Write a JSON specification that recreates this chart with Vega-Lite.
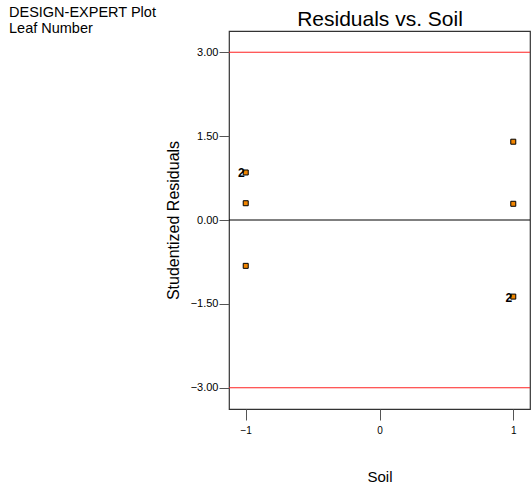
{
  "$schema": "https://vega.github.io/schema/vega-lite/v6.json",
  "autosize": "none",
  "width": 301,
  "height": 378,
  "padding": {"left": 229, "top": 31, "right": 1, "bottom": 84},
  "background": "white",
  "config": {
    "font": "Liberation Sans",
    "view": {"stroke": "#333", "strokeWidth": 1.2},
    "axis": {"grid": false, "domain": false, "labelColor": "#000", "titleColor": "#000", "titleFontWeight": "normal", "tickColor": "#555"}
  },
  "title": {
    "text": ["DESIGN-EXPERT Plot", "Leaf Number"],
    "anchor": "start",
    "frame": "group",
    "dx": -220,
    "dy": 28,
    "fontSize": 14.5,
    "fontWeight": "normal",
    "lineHeight": 15.5,
    "color": "#000",
    "offset": 0
  },
  "data": {
    "values": [
      {"Soil": -1, "Residual": 0.85, "label": "2"},
      {"Soil": -1, "Residual": 0.30, "label": ""},
      {"Soil": -1, "Residual": -0.82, "label": ""},
      {"Soil": 1, "Residual": 1.40, "label": ""},
      {"Soil": 1, "Residual": 0.29, "label": ""},
      {"Soil": 1, "Residual": -1.37, "label": "2"}
    ]
  },
  "resolve": {"axis": {"x": "independent"}},
  "layer": [
    {
      "mark": {"type": "rule", "color": "#ff2020", "strokeWidth": 1},
      "data": {"values": [{"limit": 3}, {"limit": -3}]},
      "encoding": {
        "y": {"field": "limit", "type": "quantitative", "scale": {"domain": [-3.38, 3.38], "nice": false}}
      }
    },
    {
      "mark": {"type": "rule", "color": "#000", "strokeWidth": 1},
      "data": {"values": [{"zero": 0}]},
      "encoding": {
        "y": {"field": "zero", "type": "quantitative"}
      }
    },
    {
      "mark": {"type": "point", "shape": "square", "size": 25, "filled": true, "fill": "#f28500", "stroke": "#000", "strokeWidth": 1, "opacity": 1},
      "encoding": {
        "x": {
          "field": "Soil", "type": "quantitative",
          "scale": {"domain": [-1.125, 1.125], "nice": false, "zero": false},
          "axis": {"orient": "bottom", "values": [-1, 0, 1], "format": "d", "title": "Soil", "titleFontSize": 15, "titlePadding": 34, "labelFontSize": 10, "tickSize": 11, "labelPadding": 5}
        },
        "y": {
          "field": "Residual", "type": "quantitative",
          "scale": {"domain": [-3.38, 3.38], "nice": false},
          "axis": {"values": [-3, -1.5, 0, 1.5, 3], "format": ".2f", "title": "Studentized Residuals", "titleFontSize": 16, "titlePadding": 9, "labelFontSize": 11, "tickSize": 10, "labelPadding": 1}
        }
      }
    },
    {
      "mark": {"type": "text", "align": "right", "baseline": "middle", "dx": -1, "dy": 1, "fontSize": 12, "fontWeight": "bold", "color": "#000"},
      "encoding": {
        "x": {
          "field": "Soil", "type": "quantitative",
          "scale": {"domain": [-1.125, 1.125], "nice": false, "zero": false},
          "axis": {"orient": "top", "title": "Residuals vs. Soil", "titleFontSize": 21, "titlePadding": 2, "labels": false, "ticks": false, "domain": false}
        },
        "y": {"field": "Residual", "type": "quantitative"},
        "text": {"field": "label"}
      }
    }
  ]
}
